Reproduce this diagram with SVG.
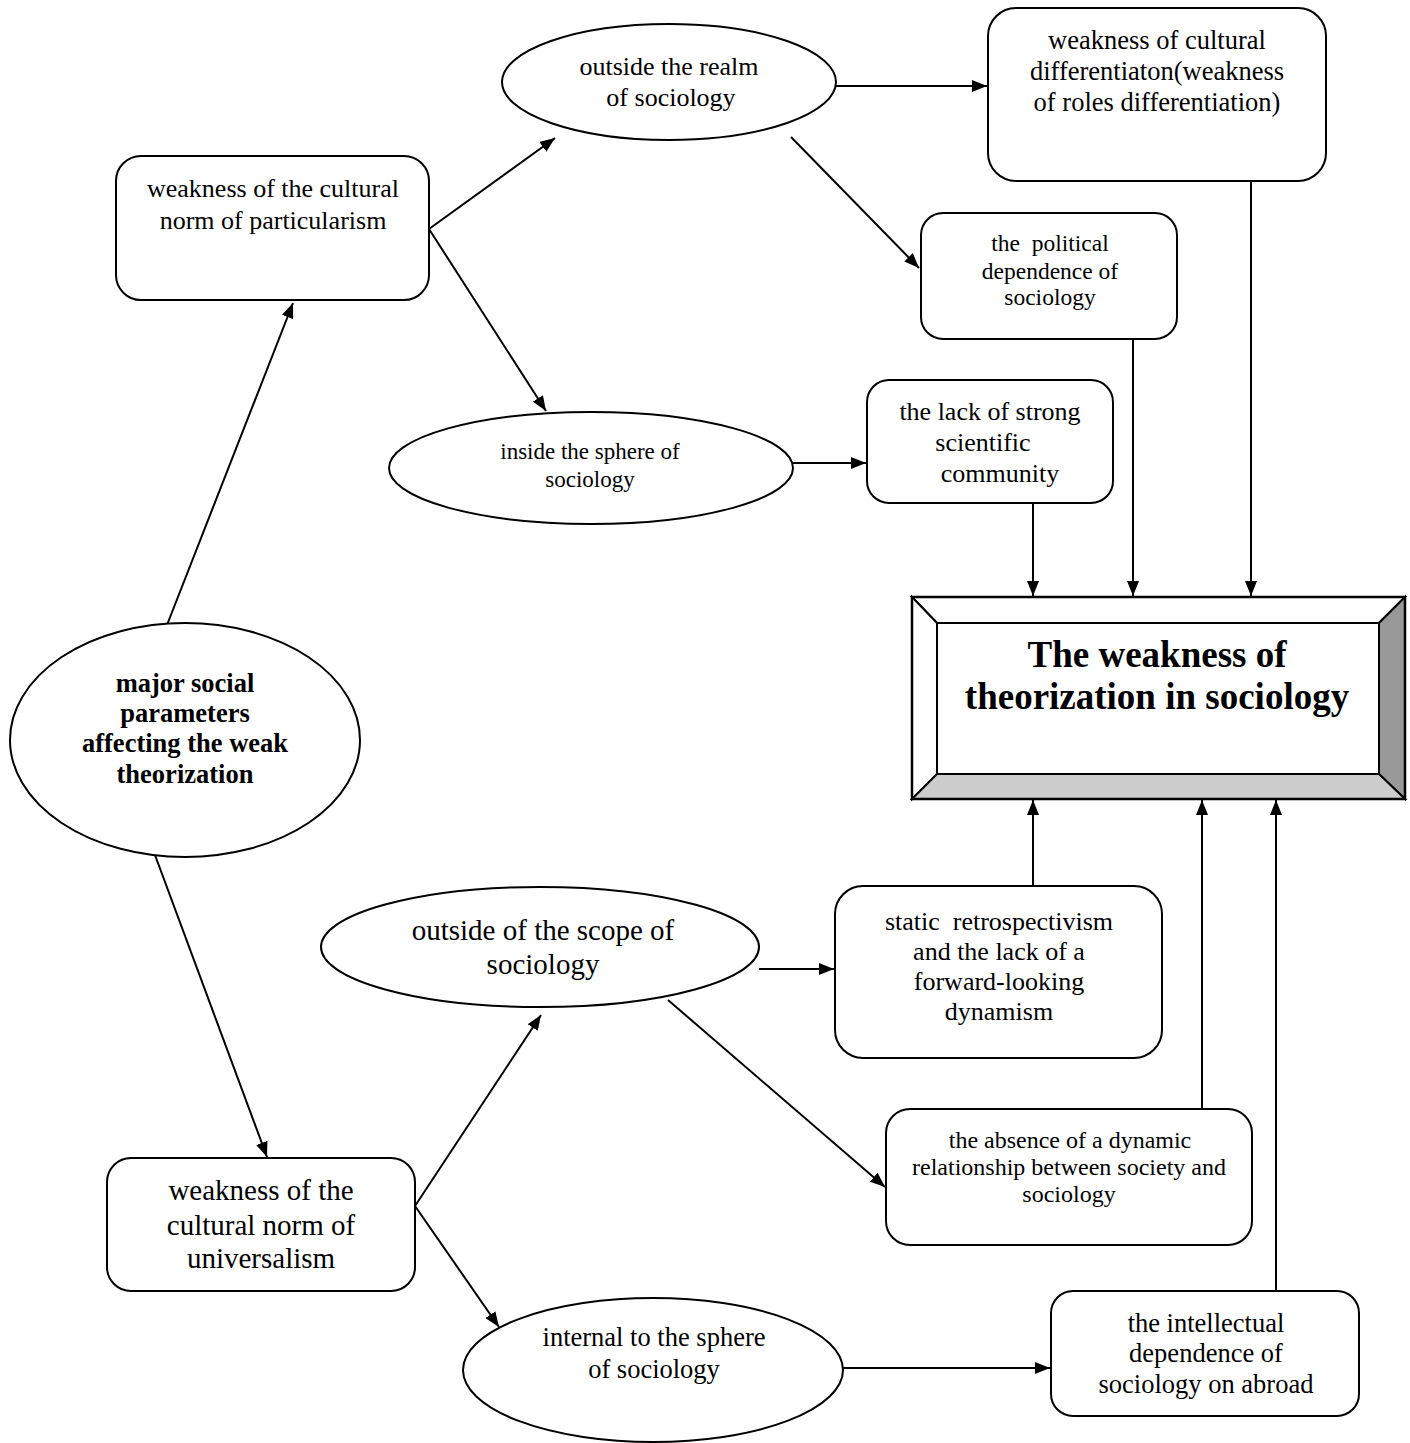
<svg xmlns="http://www.w3.org/2000/svg" width="1410" height="1443" viewBox="0 0 1410 1443">
<style>
.n{fill:#fff;stroke:#000;stroke-width:2}
.t{font-family:"Liberation Serif","Times New Roman",serif;fill:#000;text-anchor:middle}
.b{font-weight:bold}
.c{stroke:#000;stroke-width:2;fill:none;marker-end:url(#ah)}
</style>
<defs>
<marker id="ah" markerUnits="userSpaceOnUse" markerWidth="16" markerHeight="12" refX="15" refY="6" orient="auto">
<path d="M0,0 L15,6 L0,12 z" fill="#000"/>
</marker>
</defs>
<rect width="1410" height="1443" fill="#fff"/>
<g id="connectors">
<path class="c" d="M429,229 L555,138"/>
<path class="c" d="M429,229 L546,411"/>
<path class="c" d="M836,86 L987,86"/>
<path class="c" d="M791,137 L919,268"/>
<path class="c" d="M793,463 L866,463"/>
<path class="c" d="M1033,503 L1033,596"/>
<path class="c" d="M1133,339 L1133,596"/>
<path class="c" d="M1251,181 L1251,596"/>
<path class="c" d="M167,625 L293,303"/>
<path class="c" d="M155,855 L267,1157"/>
<path class="c" d="M415,1206 L541,1015"/>
<path class="c" d="M415,1206 L499,1327"/>
<path class="c" d="M759,969 L834,969"/>
<path class="c" d="M668,1000 L885,1187"/>
<path class="c" d="M1033,886 L1033,800"/>
<path class="c" d="M1202,1109 L1202,800"/>
<path class="c" d="M1276,1291 L1276,800"/>
<path class="c" d="M843,1368 L1050,1368"/>
</g>
<g id="realm">
<ellipse class="n" cx="669" cy="82" rx="167" ry="58"/>
<text class="t" font-size="26" x="669" y="75">outside the realm</text>
<text class="t" font-size="26" x="671" y="106">of sociology</text>
</g>
<g id="differentiation">
<rect class="n" x="988" y="8" width="338" height="173" rx="28"/>
<text class="t" font-size="26.5" x="1157" y="49">weakness of cultural</text>
<text class="t" font-size="26.5" x="1157" y="80">differentiaton(weakness</text>
<text class="t" font-size="26.5" x="1157" y="111">of roles differentiation)</text>
</g>
<g id="particularism">
<rect class="n" x="116" y="156" width="313" height="144" rx="25"/>
<text class="t" font-size="26" x="273" y="197">weakness of the cultural</text>
<text class="t" font-size="26" x="273" y="229">norm of particularism</text>
</g>
<g id="political">
<rect class="n" x="921" y="213" width="256" height="126" rx="22"/>
<text class="t" font-size="23.5" x="1050" y="251" xml:space="preserve">the  political</text>
<text class="t" font-size="23.5" x="1050" y="279">dependence of</text>
<text class="t" font-size="23.5" x="1050" y="305">sociology</text>
</g>
<g id="inside">
<ellipse class="n" cx="591" cy="468" rx="202" ry="56"/>
<text class="t" font-size="23" x="590" y="459">inside the sphere of</text>
<text class="t" font-size="23" x="590" y="487">sociology</text>
</g>
<g id="community">
<rect class="n" x="867" y="380" width="246" height="123" rx="22"/>
<text class="t" font-size="26" x="990" y="420">the lack of strong</text>
<text class="t" font-size="26" x="983" y="451">scientific</text>
<text class="t" font-size="26" x="1000" y="482">community</text>
</g>
<g id="major">
<ellipse class="n" cx="185" cy="740" rx="175" ry="117"/>
<text class="t b" font-size="26.5" x="185" y="692">major social</text>
<text class="t b" font-size="26.5" x="185" y="722">parameters</text>
<text class="t b" font-size="26.5" x="185" y="752">affecting the weak</text>
<text class="t b" font-size="26.5" x="185" y="783">theorization</text>
</g>
<g id="weakness-theorization">
<polygon points="912,597 1405,597 1379,623 937,623" fill="#fff" stroke="#000" stroke-width="2"/>
<polygon points="912,597 937,623 937,774 912,799" fill="#fff" stroke="#000" stroke-width="2"/>
<polygon points="1405,597 1405,799 1379,774 1379,623" fill="#999" stroke="#000" stroke-width="2"/>
<polygon points="912,799 1405,799 1379,774 937,774" fill="#ccc" stroke="#000" stroke-width="2"/>
<rect x="937" y="623" width="442" height="151" fill="#fff" stroke="#000" stroke-width="2"/>
<rect x="912" y="597" width="493" height="202" fill="none" stroke="#000" stroke-width="2.5"/>
<text class="t b" font-size="37" x="1157" y="667">The weakness of</text>
<text class="t b" font-size="37" x="1157" y="709">theorization in sociology</text>
</g>
<g id="scope">
<ellipse class="n" cx="540" cy="947" rx="219" ry="60"/>
<text class="t" font-size="29" x="543" y="940">outside of the scope of</text>
<text class="t" font-size="29" x="543" y="974">sociology</text>
</g>
<g id="retrospectivism">
<rect class="n" x="835" y="886" width="327" height="172" rx="28"/>
<text class="t" font-size="26" x="999" y="930" xml:space="preserve">static  retrospectivism</text>
<text class="t" font-size="26" x="999" y="960">and the lack of a</text>
<text class="t" font-size="26" x="999" y="990">forward-looking</text>
<text class="t" font-size="26" x="999" y="1020">dynamism</text>
</g>
<g id="absence">
<rect class="n" x="886" y="1109" width="366" height="136" rx="24"/>
<text class="t" font-size="24" x="1070" y="1148">the absence of a dynamic</text>
<text class="t" font-size="24" x="1069" y="1175">relationship between society and</text>
<text class="t" font-size="24" x="1069" y="1202">sociology</text>
</g>
<g id="universalism">
<rect class="n" x="107" y="1158" width="308" height="133" rx="24"/>
<text class="t" font-size="29" x="261" y="1200">weakness of the</text>
<text class="t" font-size="29" x="261" y="1235">cultural norm of</text>
<text class="t" font-size="29" x="261" y="1268">universalism</text>
</g>
<g id="internal">
<ellipse class="n" cx="653" cy="1370" rx="190" ry="72"/>
<text class="t" font-size="26.5" x="654" y="1346">internal to the sphere</text>
<text class="t" font-size="26.5" x="654" y="1378">of sociology</text>
</g>
<g id="intellectual">
<rect class="n" x="1051" y="1291" width="308" height="125" rx="22"/>
<text class="t" font-size="26.5" x="1206" y="1332">the intellectual</text>
<text class="t" font-size="26.5" x="1206" y="1362">dependence of</text>
<text class="t" font-size="26.5" x="1206" y="1393">sociology on abroad</text>
</g>
</svg>
